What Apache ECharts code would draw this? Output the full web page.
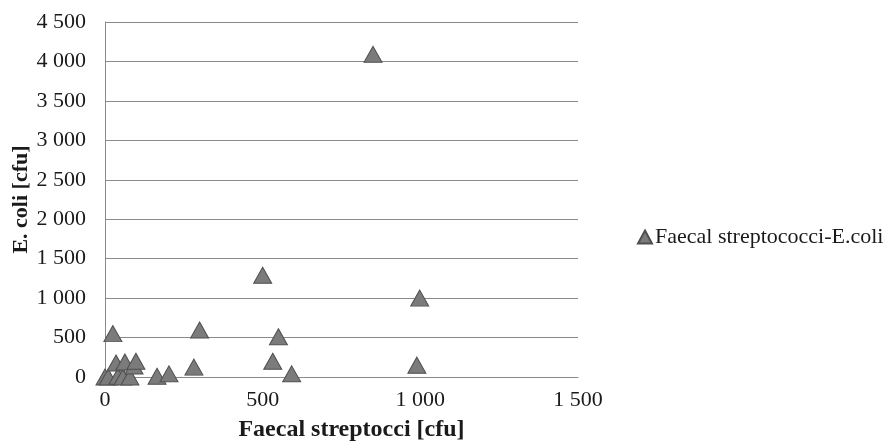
<!DOCTYPE html>
<html>
<head>
<meta charset="utf-8">
<script src="https://cdn.jsdelivr.net/npm/echarts@6/dist/echarts.min.js"></script>
<style>
html,body{margin:0;padding:0;background:#fff;}
#chart{width:885px;height:447px;}
</style>
</head>
<body>
<div id="chart"></div>
<script>
var seriesName = 'Faecal streptococci-E.coli';
var xValues = [0, 10, 41, 57, 79, 35, 63, 92, 98, 25, 165, 203, 282, 300, 500, 532, 550, 592, 850, 989, 998];
var yValues = [0, 0, 10, 0, 0, 177, 190, 139, 200, 550, 10, 40, 125, 595, 1290, 200, 510, 40, 4090, 150, 1000];
var xTicks = [0, 500, 1000, 1500];
var yTicks = [0, 500, 1000, 1500, 2000, 2500, 3000, 3500, 4000, 4500];
var xTitle = 'Faecal streptocci [cfu]';
var yTitle = 'E. coli [cfu]';

var points = xValues.map(function (x, i) { return [x, yValues[i]]; });
function fmt(v) { return String(v).replace(/\B(?=(\d{3})+(?!\d))/g, ' '); }

var FONT = '"Liberation Serif", "Times New Roman", serif';
var TXT = '#1a1a1a';
var GRID = '#8a8a8a';

var chart = echarts.init(document.getElementById('chart'), null, {renderer: 'canvas'});
chart.setOption({
  animation: false,
  backgroundColor: '#fff',
  grid: {left: 105, right: 307, top: 22, bottom: 70, containLabel: false, outerBoundsMode: 'none'},
  legend: {
    show: true,
    left: 632, top: 221,
    itemWidth: 14, itemHeight: 13, itemGap: 5,
    textStyle: {fontFamily: FONT, fontSize: 22, color: TXT, padding: [0, 0, 0, -2]},
    data: [{name: seriesName, icon: 'triangle'}]
  },
  xAxis: {
    type: 'value',
    min: xTicks[0], max: xTicks[xTicks.length - 1], interval: 500,
    name: xTitle, nameLocation: 'middle', nameGap: 41, nameMoveOverlap: false,
    nameTextStyle: {fontFamily: FONT, fontSize: 24, fontWeight: 'bold', color: TXT, padding: [0, 0, 0, 20]},
    axisLine: {show: true, lineStyle: {color: GRID, width: 1}},
    axisTick: {show: false},
    splitLine: {show: false},
    axisLabel: {fontFamily: FONT, fontSize: 22, color: TXT, margin: 12, formatter: fmt}
  },
  yAxis: {
    type: 'value',
    min: yTicks[0], max: yTicks[yTicks.length - 1], interval: 500,
    name: yTitle, nameLocation: 'middle', nameGap: 73, nameMoveOverlap: false,
    nameTextStyle: {fontFamily: FONT, fontSize: 22, fontWeight: 'bold', color: TXT},
    axisLine: {show: true, lineStyle: {color: GRID, width: 1}},
    axisTick: {show: false},
    splitLine: {show: true, lineStyle: {color: GRID, width: 1}},
    axisLabel: {fontFamily: FONT, fontSize: 22, color: TXT, margin: 19, formatter: fmt}
  },
  series: [{
    name: seriesName,
    type: 'scatter',
    symbol: 'triangle',
    symbolSize: [18, 16],
    clip: false,
    itemStyle: {color: '#7b7b7b', borderColor: '#4f4f4f', borderWidth: 1, opacity: 1},
    data: points
  }]
});
</script>
</body>
</html>
